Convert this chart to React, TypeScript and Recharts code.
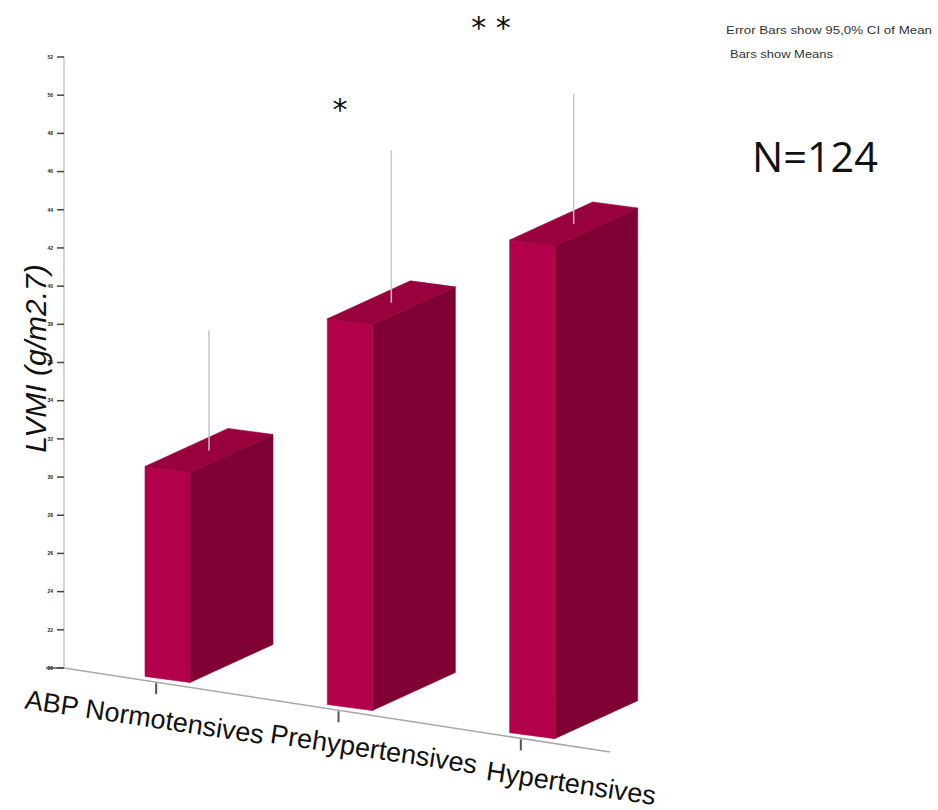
import React from "react";
import { BarChart, Bar, XAxis, YAxis } from "recharts";

// ---- data ----
const categories = ["ABP Normotensives", "Prehypertensives", "Hypertensives"];
const means = [31.0, 40.2, 45.8];
const upperCI = [37.3, 48.2, 52.6];
const yTicks = [20, 22, 24, 26, 28, 30, 32, 34, 36, 38, 40, 42, 44, 46, 48, 50, 52];
const yDomain = [20, 52];
const noteLines = ["Error Bars show 95,0% CI of Mean", "Bars show Means"];
const sampleNote = "N=124";
const sigMarks = ["*", "* *"];

const data = categories.map((name, i) => ({ name, mean: means[i], upper: upperCI[i] }));

// ---- style constants ----
const W = 938;
const H = 810;
const PLOT_LEFT = 64;
const PLOT_TOP = 57;
const PLOT_BOTTOM = 668;
const FLOOR_SLOPE = 0.154;
const FRONT_W = 45;
const FRONT_DROP = 6;
const SIDE_RISE = 38;
const FRONT_COLOR = "#b3004a";
const SIDE_COLOR = "#7f0032";
const TOP_COLOR = "#98003e";
const TICK_SHIFT = 53;
const LABEL_DX = [-13, 34, 49];
const LABEL_DY = [44, 48, 54];

function Box3D(props: any) {
  const { x, y, width, height, payload } = props;
  if (height == null || isNaN(height)) return null;
  const fw = FRONT_W;
  const botL = y + height + FLOOR_SLOPE * (x - PLOT_LEFT) - 4;
  const topL = botL - height;
  const d = FRONT_DROP;
  const r = SIDE_RISE;
  const front = `M${x},${topL} L${x + fw},${topL + d} L${x + fw},${botL + d} L${x},${botL} Z`;
  const side = `M${x + fw},${topL + d} L${x + width},${topL + d - r} L${x + width},${botL + d - r} L${x + fw},${botL + d} Z`;
  const top = `M${x},${topL} L${x + fw},${topL + d} L${x + width},${topL + d - r} L${x + width - fw},${topL - r} Z`;
  const cx = x + width / 2;
  const cy = topL + (d - r) / 2;
  const k = height / (payload.mean - yDomain[0]);
  const errTop = cy - (payload.upper - payload.mean) * k;
  return (
    <g>
      <path d={side} fill={SIDE_COLOR} stroke={SIDE_COLOR} strokeWidth={0.6} />
      <path d={front} fill={FRONT_COLOR} stroke={FRONT_COLOR} strokeWidth={0.6} />
      <path d={top} fill={TOP_COLOR} stroke={TOP_COLOR} strokeWidth={0.6} />
      <line x1={cx} y1={cy} x2={cx} y2={errTop} stroke="#c6c6c6" strokeWidth={1.5} />
    </g>
  );
}

function XTick(props: any) {
  const { x, payload, index } = props;
  const tx = x - TICK_SHIFT;
  const by = PLOT_BOTTOM + FLOOR_SLOPE * (tx - PLOT_LEFT);
  const lx = tx + LABEL_DX[index];
  const ly = by + LABEL_DY[index];
  return (
    <g>
      <line x1={tx} y1={by + 1} x2={tx} y2={by + 12} stroke="#555" strokeWidth={2} />
      <text
        x={lx}
        y={ly}
        textAnchor="middle"
        transform={`rotate(8.5 ${lx} ${ly})`}
        fontFamily="'Liberation Sans', Arial, sans-serif"
        fontSize={27}
        fill="#111"
      >
        {payload.value}
      </text>
    </g>
  );
}

function YLabel(props: any) {
  const vb = props.viewBox || {};
  const lx = vb.x + 46;
  const ly = vb.y + vb.height / 2 - 4;
  return (
    <text
      x={lx}
      y={ly}
      textAnchor="middle"
      transform={`rotate(-90 ${lx} ${ly})`}
      fontFamily="'Liberation Sans', Arial, sans-serif"
      fontStyle="italic"
      fontSize={30}
      fill="#111"
    >
      LVMI (g/m2.7)
    </text>
  );
}

export default function App() {
  return (
    <div style={{ position: "absolute", left: 0, top: 0, width: W, height: H, background: "#fff" }}>
      <svg width={W} height={H} style={{ position: "absolute", left: 0, top: 0 }}>
        <line
          x1={PLOT_LEFT}
          y1={PLOT_BOTTOM}
          x2={610}
          y2={PLOT_BOTTOM + FLOOR_SLOPE * (610 - PLOT_LEFT)}
          stroke="#a8a8a8"
          strokeWidth={1.5}
        />
        <line x1={46} y1={PLOT_BOTTOM} x2={PLOT_LEFT} y2={PLOT_BOTTOM} stroke="#555" strokeWidth={1.5} />
      </svg>
      <div style={{ position: "absolute", left: 0, top: 0 }}>
        <BarChart
          width={W}
          height={H}
          data={data}
          margin={{ top: PLOT_TOP, right: 273, left: 0, bottom: H - PLOT_BOTTOM - 30 }}
        >
          <XAxis
            dataKey="name"
            axisLine={false}
            tickLine={false}
            tick={<XTick />}
            height={30}
            interval={0}
            padding={{ left: 54, right: 0 }}
          />
          <YAxis
            type="number"
            domain={yDomain}
            ticks={yTicks}
            width={PLOT_LEFT}
            axisLine={{ stroke: "#c4c4c4", strokeWidth: 1.5 }}
            tickLine={{ stroke: "#444", strokeWidth: 1.5 }}
            tickSize={7}
            tickMargin={4}
            tick={{ fontSize: 5, fill: "#222", fontWeight: "bold", fontFamily: "'Liberation Sans', Arial, sans-serif" }}
            label={<YLabel />}
          />
          <Bar dataKey="mean" barSize={128} isAnimationActive={false} shape={<Box3D />} />
        </BarChart>
      </div>
      <svg width={W} height={H} style={{ position: "absolute", left: 0, top: 0, pointerEvents: "none" }}>
        <text x={340} y={120} textAnchor="middle" fontFamily="'DejaVu Sans', sans-serif" fontSize={30} fill="#111">
          {sigMarks[0]}
        </text>
        <text x={491} y={38} textAnchor="middle" fontFamily="'DejaVu Sans', sans-serif" fontSize={30} fill="#111">
          {sigMarks[1]}
        </text>
        <text
          x={726}
          y={34}
          textLength={206}
          lengthAdjust="spacingAndGlyphs"
          fontFamily="'Liberation Sans Narrow', 'Liberation Sans', Arial, sans-serif"
          fontSize={11}
          fill="#333"
        >
          {noteLines[0]}
        </text>
        <text
          x={730}
          y={58}
          textLength={103}
          lengthAdjust="spacingAndGlyphs"
          fontFamily="'Liberation Sans Narrow', 'Liberation Sans', Arial, sans-serif"
          fontSize={11}
          fill="#333"
        >
          {noteLines[1]}
        </text>
        <text x={752} y={172} fontFamily="'Open Sans', sans-serif" fontSize={42} fill="#111" textLength={126} lengthAdjust="spacingAndGlyphs">
          {sampleNote}
        </text>
      </svg>
    </div>
  );
}
